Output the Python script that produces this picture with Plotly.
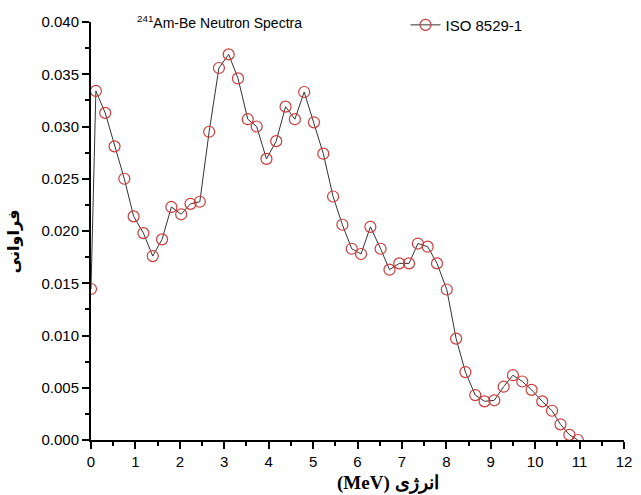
import plotly.graph_objects as go

energy_mev = [0.0, 0.11, 0.32, 0.53, 0.75, 0.96, 1.18, 1.39, 1.60, 1.81, 2.03, 2.24, 2.45,
              2.66, 2.88, 3.10, 3.31, 3.53, 3.73, 3.95, 4.17, 4.38, 4.59, 4.80, 5.02,
              5.23, 5.45, 5.66, 5.87, 6.08, 6.29, 6.52, 6.72, 6.94, 7.16, 7.36, 7.58,
              7.79, 8.01, 8.22, 8.43, 8.65, 8.86, 9.08, 9.29, 9.50, 9.71, 9.92, 10.16,
              10.38, 10.57, 10.77, 10.96]
abundance = [0.01445, 0.0334, 0.0313, 0.0281, 0.0250, 0.0214, 0.0198, 0.0176, 0.0192,
             0.0223, 0.0216, 0.0226, 0.0228, 0.0295, 0.0356, 0.0369, 0.0346, 0.0307,
             0.0300, 0.0269, 0.0286, 0.0319, 0.0307, 0.0333, 0.0304, 0.0274, 0.0233,
             0.0206, 0.0183, 0.0178, 0.0204, 0.0183, 0.0163, 0.0169, 0.0169, 0.0188,
             0.0185, 0.0169, 0.0144, 0.0097, 0.0065, 0.0043, 0.0037, 0.0038, 0.0051,
             0.0062, 0.0056, 0.0048, 0.0037, 0.0028, 0.0015, 0.0005, 0.0]

series_name = "ISO 8529-1"
chart_title = "<sup>241</sup>Am-Be Neutron Spectra"
x_title = "(MeV) انرژی"
y_title = "فراوانی"

fig = go.Figure()
fig.add_trace(go.Scatter(
    x=energy_mev, y=abundance, mode="lines+markers", name=series_name,
    line=dict(color="#333333", width=1),
    marker=dict(symbol="circle-open", size=11, color="#cc3b3b", line=dict(width=1.2)),
))

tick_font = dict(family="Liberation Sans, Arial, sans-serif", size=15, color="black")

fig.update_layout(
    width=641, height=495,
    margin=dict(l=91, r=17, t=22, b=55, autoexpand=False),
    paper_bgcolor="white", plot_bgcolor="white",
    font=dict(family="Liberation Sans, Arial, sans-serif", size=14, color="black"),
    showlegend=True,
    legend=dict(x=0.59, y=1.032, xanchor="left", yanchor="top",
                bgcolor="rgba(0,0,0,0)", font=dict(size=15), itemwidth=30),
    xaxis=dict(range=[0, 12], dtick=1, tick0=0, showgrid=False, zeroline=False,
               showline=True, linecolor="black", linewidth=2, tickfont=tick_font,
               ticks="outside", ticklen=7, tickwidth=2, tickcolor="black",
               minor=dict(dtick=0.5, ticks="outside", ticklen=4, tickwidth=1.5, tickcolor="black")),
    yaxis=dict(range=[0, 0.040], dtick=0.005, tick0=0, tickformat=".3f",
               showgrid=False, zeroline=False, tickfont=tick_font,
               showline=True, linecolor="black", linewidth=2,
               ticks="outside", ticklen=7, tickwidth=2, tickcolor="black",
               minor=dict(dtick=0.0025, ticks="outside", ticklen=4, tickwidth=1.5, tickcolor="black")),
    annotations=[
        dict(text=chart_title, xref="paper", yref="paper", x=0.082, y=1.0,
             xanchor="left", yanchor="middle", showarrow=False,
             font=dict(size=14, family="Liberation Sans, Arial, sans-serif")),
        dict(text="<b>" + x_title + "</b>", xref="paper", yref="paper", x=0.557, y=-0.072,
             xanchor="center", yanchor="top", showarrow=False,
             font=dict(size=19, family="Liberation Serif, Times New Roman, DejaVu Serif, serif")),
        dict(text="<b>" + y_title + "</b>", xref="paper", yref="paper", x=-0.145, y=0.475,
             xanchor="center", yanchor="middle", showarrow=False, textangle=-90,
             font=dict(size=16, family="DejaVu Sans, serif")),
    ],
)

fig.write_html("out.html", config={"displayModeBar": False},
               post_script="document.body.style.margin='0';")
